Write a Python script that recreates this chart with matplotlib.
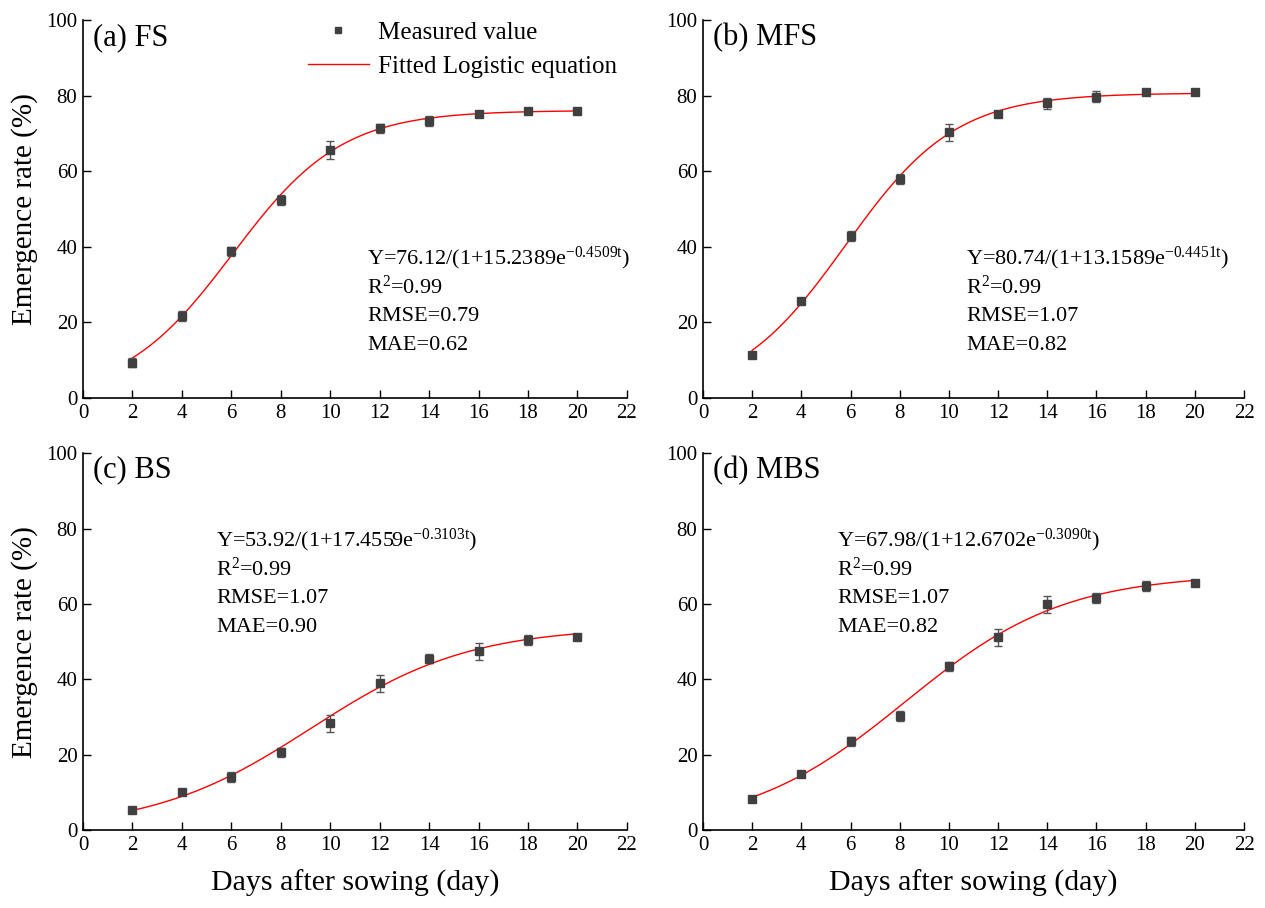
import numpy as np
import matplotlib
matplotlib.use("Agg")
import matplotlib.pyplot as plt
from matplotlib.lines import Line2D

plt.rcParams['font.family'] = ['Liberation Serif', 'DejaVu Serif']
plt.rcParams['mathtext.fontset'] = 'custom'
plt.rcParams['mathtext.rm'] = 'Liberation Serif'
plt.rcParams['mathtext.it'] = 'Liberation Serif:italic'

days = np.array([2, 4, 6, 8, 10, 12, 14, 16, 18, 20])

# measured emergence rate (%) and error bars
fs_mean = [9.3, 21.7, 38.9, 52.4, 65.6, 71.4, 73.3, 75.1, 76.1, 76.1]
fs_err = [1.2, 1.2, 1.2, 1.3, 2.3, 1.2, 1.4, 0.5, 0.4, 0.3]
mfs_mean = [11.4, 25.7, 42.9, 57.9, 70.3, 75.1, 78.0, 79.8, 80.9, 80.9]
mfs_err = [0.5, 0.5, 1.3, 1.3, 2.2, 0.4, 1.4, 1.4, 0.3, 0.3]
bs_mean = [5.3, 10.0, 14.0, 20.6, 28.3, 38.9, 45.5, 47.4, 50.4, 51.2]
bs_err = [0.5, 0.6, 1.3, 1.2, 2.3, 2.3, 1.3, 2.3, 1.4, 0.5]
mbs_mean = [8.2, 14.9, 23.5, 30.2, 43.4, 51.1, 59.9, 61.6, 64.7, 65.5]
mbs_err = [0.5, 0.5, 1.3, 1.4, 1.3, 2.3, 2.3, 1.4, 1.4, 0.5]

# logistic parameters K, a, r : Y = K/(1+a*exp(-r*t))
fs_fit = (76.12, 15.2389, 0.4509)
mfs_fit = (80.74, 13.1589, 0.4451)
bs_fit = (53.92, 17.4559, 0.3103)
mbs_fit = (67.98, 12.6702, 0.3090)

stats_fs = ("0.99", "0.79", "0.62")
stats_mfs = ("0.99", "1.07", "0.82")
stats_bs = ("0.99", "1.07", "0.90")
stats_mbs = ("0.99", "1.07", "0.82")

panels = [
    ("(a) FS", fs_mean, fs_err, fs_fit, stats_fs, (11.5, 37.0), [0.0656, 0.5617, 0.430, 0.416]),
    ("(b) MFS", mfs_mean, mfs_err, mfs_fit, stats_mfs, (10.7, 37.0), [0.5557, 0.5617, 0.4277, 0.416]),
    ("(c) BS", bs_mean, bs_err, bs_fit, stats_bs, (5.4, 76.9), [0.0656, 0.0859, 0.430, 0.415]),
    ("(d) MBS", mbs_mean, mbs_err, mbs_fit, stats_mbs, (5.45, 76.9), [0.5557, 0.0859, 0.4277, 0.415]),
]

fig = plt.figure(figsize=(12.65, 9.08), dpi=100)
axes = []
for i, (title, mean, err, fit, stats, txt_pos, rect) in enumerate(panels):
    ax = fig.add_axes(rect)
    axes.append(ax)
    K, a, r = fit
    t = np.linspace(2, 20, 300)
    ax.plot(t, K / (1 + a * np.exp(-r * t)), color='red', lw=1.0, zorder=2)
    ax.errorbar(days, mean, yerr=err, fmt='s', color='#404040', ms=5.3,
                ecolor='#555555', elinewidth=1.0, capsize=3, capthick=1.0, zorder=3)

    ax.set_xlim(0, 22)
    ax.set_ylim(0, 100)
    ax.set_xticks(range(0, 23, 2))
    ax.set_yticks(range(0, 101, 20))
    ax.spines['top'].set_visible(False)
    ax.spines['right'].set_visible(False)
    for s in ('left', 'bottom'):
        ax.spines[s].set_linewidth(1.2)
    ax.tick_params(direction='in', length=6, width=1.0, labelsize=15, pad=4)

    ax.text(0.4, 95.5, title, fontsize=22, va='center', ha='left')

    x0, y0 = txt_pos
    dy = 7.7
    ax.text(x0, y0, r"Y=%.2f/(1+%.4fe$^{\mathrm{-%.4ft}}$)" % (K, a, r),
            fontsize=16, va='center')
    ax.text(x0, y0 - dy, r"R$^{2}$=" + stats[0], fontsize=16, va='center')
    ax.text(x0, y0 - 2 * dy, "RMSE=" + stats[1], fontsize=16, va='center')
    ax.text(x0, y0 - 3 * dy, "MAE=" + stats[2], fontsize=16, va='center')

    if i % 2 == 0:
        ax.set_ylabel("Emergence rate (%)", fontsize=21, labelpad=6)
    if i >= 2:
        ax.set_xlabel("Days after sowing (day)", fontsize=21.5, labelpad=11)

handles = [
    Line2D([], [], marker='s', color='#404040', ls='none', ms=5),
    Line2D([], [], color='red', lw=1.0),
]
axes[0].legend(handles, ["Measured value", "Fitted Logistic equation"],
               loc='upper left', bbox_to_anchor=(0.39, 1.03), frameon=False,
               fontsize=18, handlelength=2.45, handletextpad=0.35,
               labelspacing=0.45, borderpad=0.0)

fig.savefig("out.png", dpi=100)
